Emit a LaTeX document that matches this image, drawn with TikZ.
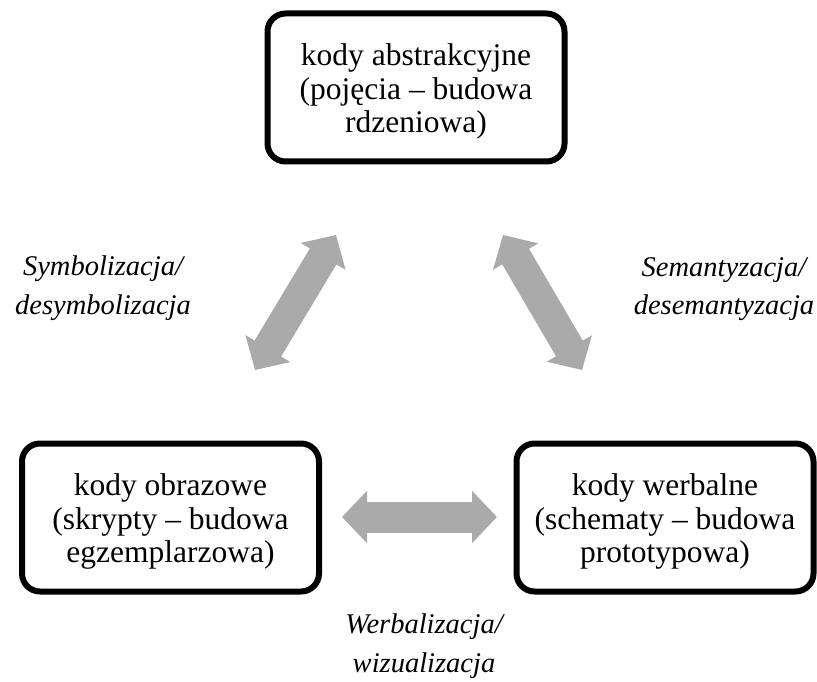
\documentclass[tikz,border=0pt]{standalone}
\usepackage{fontspec}
\setmainfont{Liberation Serif}
\usetikzlibrary{arrows.meta}
\definecolor{arrowgray}{RGB}{170,170,170}
% extra room above the first line of a box, so its text sits a little lower
\newcommand{\boxtopstrut}{\rule{0pt}{30pt}}
\tikzset{
  codebox/.style={draw=black, line width=6pt, rounded corners=18pt,
    minimum width=297pt, minimum height=148pt, align=center, inner sep=0pt,
    font=\fontsize{31.5}{33.8}\selectfont},
  processlabel/.style={align=center, inner sep=0pt,
    font=\fontsize{28.5}{38.5}\selectfont\itshape},
  bigarrow/.style={draw=arrowgray, line width=31pt,
    {Triangle[width=51pt 0 0,length=25pt 0 0]}-{Triangle[width=51pt 0 0,length=25pt 0 0]}}
}
\begin{document}
\begin{tikzpicture}[x=1pt,y=-1pt]
  \useasboundingbox (0,0) rectangle (817,682);

  % the three kinds of codes
  \node[codebox] (abstr) at (416,87.5) {\boxtopstrut kody abstrakcyjne\\(pojęcia – budowa\\rdzeniowa)};
  \node[codebox] (obraz) at (170.5,517.5) {\boxtopstrut kody obrazowe\\(skrypty – budowa\\egzemplarzowa)};
  \node[codebox] (werb) at (665,517.5) {\boxtopstrut kody werbalne\\(schematy – budowa\\prototypowa)};

  % end points of the two-way arrows
  \coordinate (symA) at (255,370);
  \coordinate (symB) at (336,235);
  \coordinate (semA) at (503,235);
  \coordinate (semB) at (582,370);
  \coordinate (werA) at (342,517);
  \coordinate (werB) at (497,517);

  \draw[bigarrow] (symA) -- (symB);
  \draw[bigarrow] (semA) -- (semB);
  \draw[bigarrow] (werA) -- (werB);

  % names of the transitions
  \node[processlabel] (symlab) at (103,288) {Symbolizacja/\\desymbolizacja};
  \node[processlabel] (semlab) at (724,289) {Semantyzacja/\\desemantyzacja};
  \node[processlabel] (werlab) at (424,646) {Werbalizacja/\\wizualizacja};
\end{tikzpicture}
\end{document}
